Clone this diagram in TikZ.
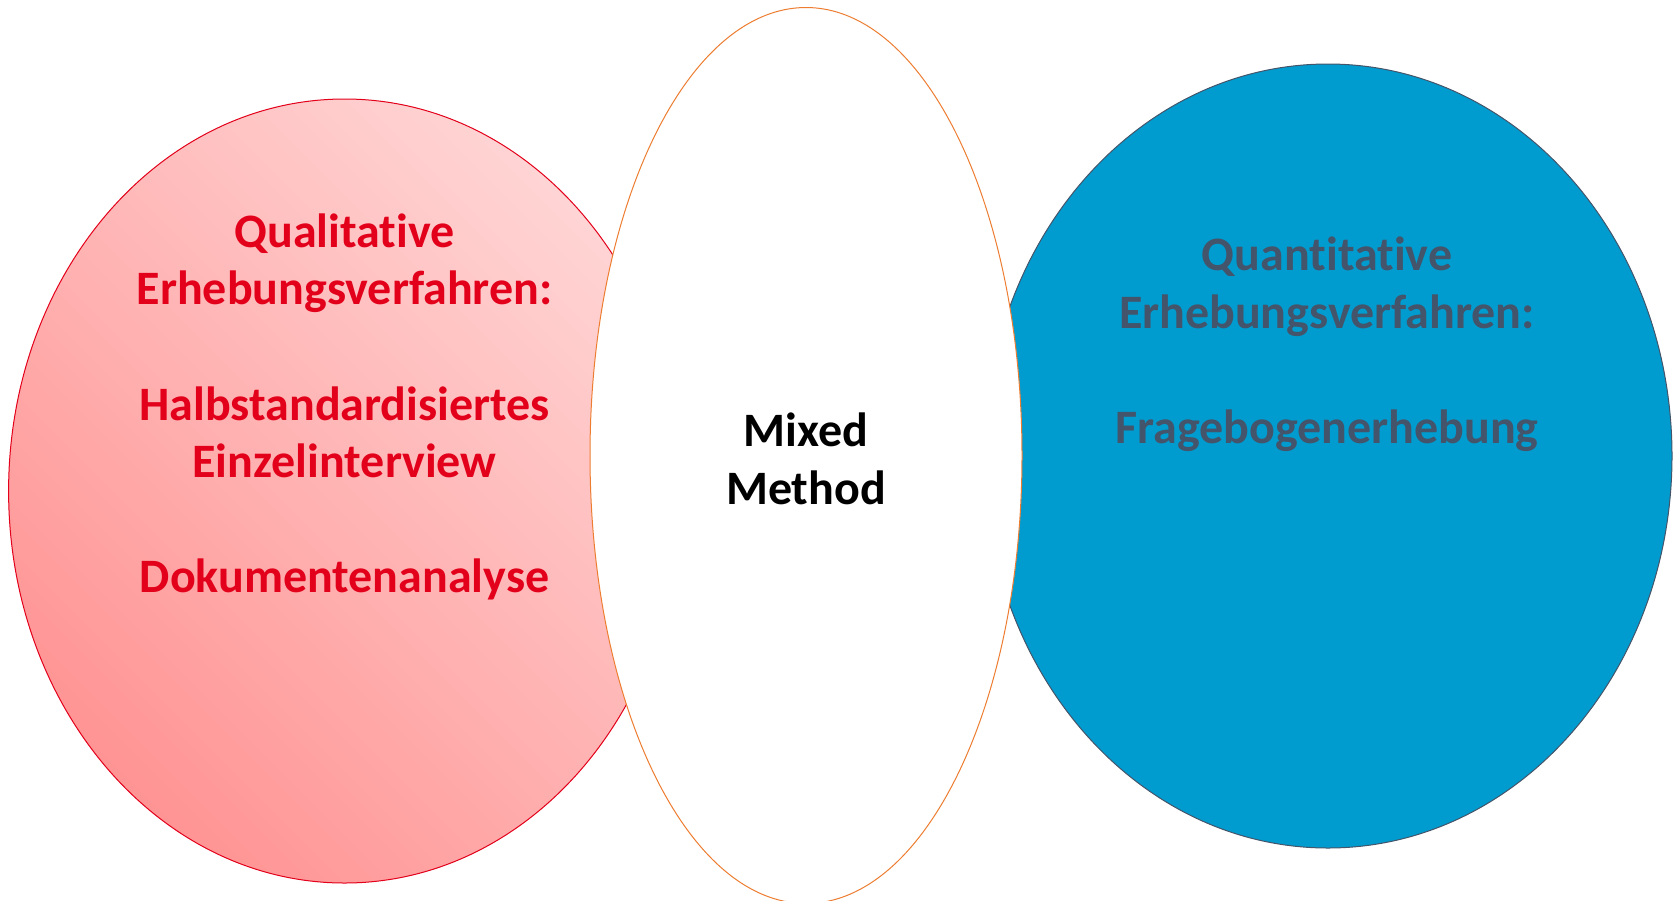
\documentclass[tikz,border=0pt]{standalone}
\usepackage{fontspec}
\setmainfont{Carlito}[Ligatures=NoCommon]
\usepackage{tikz}

\definecolor{qualired}{HTML}{E2001A}
\definecolor{qualidark}{HTML}{FF9494}
\definecolor{qualilight}{HTML}{FFD4D4}
\definecolor{quantiblue}{HTML}{009CCF}
\definecolor{quantitext}{HTML}{44546A}
\definecolor{mixedorange}{HTML}{ED7D31}

\begin{document}
\begin{tikzpicture}[x=0.75pt, y=-0.75pt,
    bigtext/.style={font=\bfseries\fontsize{36}{43.2}\selectfont, align=center}]
    \useasboundingbox (0,0) rectangle (1673,900);
    \shade[top color=qualilight, bottom color=qualidark, shading angle=-45] (344.6,491) ellipse [x radius=336, y radius=392];
    \draw[qualired, line width=0.75pt] (344.6,491) ellipse [x radius=336, y radius=392];
    \filldraw[fill=quantiblue, draw=quantitext, line width=0.75pt] (1328,456) ellipse [x radius=344, y radius=392];
    \filldraw[fill=white, draw=mixedorange, line width=0.75pt] (806,455.5) ellipse [x radius=216, y radius=448];
    \node[bigtext, text=qualired] (quali) at (344.6,407) {Qualitative\\Erhebungsverfahren:\\[43.2pt]Halbstandardisiertes\\Einzelinterview\\[43.2pt]Dokumentenanalyse};
    \node[bigtext, text=black] (mixed) at (806,459) {Mixed\\Method};
    \node[bigtext, text=quantitext] (quanti) at (1327,344.5) {Quantitative\\Erhebungsverfahren:\\[43.2pt]Fragebogenerhebung};
  \end{tikzpicture}
\end{document}
